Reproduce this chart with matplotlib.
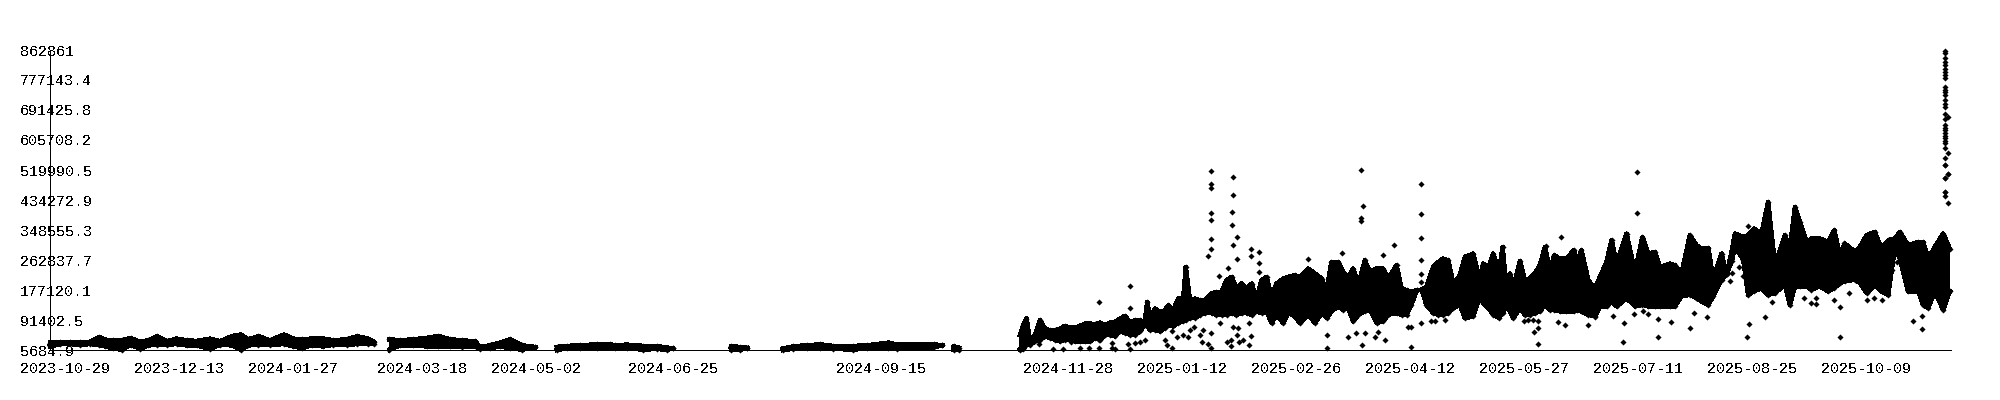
import numpy as np
import matplotlib
matplotlib.use('Agg')
import matplotlib.pyplot as plt
from matplotlib.transforms import ScaledTranslation

nan = np.nan

y_ticks = [5684.9, 91402.5, 177120.1, 262837.7, 348555.3, 434272.9, 519990.5, 605708.2, 691425.8, 777143.4, 862861]
y_labels = ['5684.9', '91402.5', '177120.1', '262837.7', '348555.3', '434272.9', '519990.5', '605708.2', '691425.8', '777143.4', '862861']
x_ticks = [0, 45, 90, 141, 186, 240, 322, 396, 441, 486, 531, 576, 621, 666, 711]
x_labels = ['2023-10-29', '2023-12-13', '2024-01-27', '2024-03-18', '2024-05-02', '2024-06-25', '2024-09-15', '2024-11-28',
            '2025-01-12', '2025-02-26', '2025-04-12', '2025-05-27', '2025-07-11', '2025-08-25', '2025-10-09']

# days since 2023-10-29, with the upper and lower edge of the dense cloud in thousands
# nan = no data for that stretch
band_days = [0, 3.9, 7.9, 11.8, 15.8, 19.4, 21.7, 25, 28.3, 31.8, 35.5, 38.8, 42.4, 46.1, 50, 54, 57.9, 63.2, 67.1, 72.1, 75.3, 78.3,
             82.3, 86.9, 92.4, 96.1, 99.4, 103.3, 107.9, 111.9, 117.1, 121.3, 125.7, 127.9, 132,
             134, 138.2, 143.4, 148.7, 153.3, 157.9, 162.5, 167.8, 169.8, 173.7, 177.7, 181.6, 186.3, 191.5, 195,
             200.1, 204, 209.3, 215.9, 221.1, 223.1, 227.7, 234.3, 239.6, 243.5, 245.9, 255,
             268.8, 272.5, 275.3, 285,
             289.3, 293.5, 298.8, 304, 309.3, 317.2, 322.5, 331, 334.3, 340.9, 348.8, 352.3, 354.5,
             356.7, 358.8, 370,
             382.9, 384.2, 385.5, 386.8, 388.8, 390.8, 392.8, 394.7, 396.7, 398.7, 400.7, 402.6, 404.6, 406.6, 408.6, 410.5,
             412.5, 414.5, 416.5, 418.4, 420.4, 422.4, 424.4, 426.3, 428.3, 430.3, 432.2, 433.2, 434.2, 436.2, 438.2, 440.1,
             441.5, 443.4, 445.4, 447.4, 448.4, 450, 452, 454, 455.9, 458.6, 460.5, 462.5, 464.5, 466.5, 468.4, 470.4,
             472.4, 474.4, 476.3, 478.3, 480.3, 482.3, 484.2, 486.9, 488.8, 491.5, 493.4, 496.7, 499.4, 502, 504, 505.9,
             508.6, 510.5, 512.5, 514.5, 516.5, 519.1, 521.1, 523.7, 526.3, 528.3, 531.6, 533.6, 535.6, 537.5, 539.5, 541.5,
             543.4, 546.1, 548.1, 550, 552, 554, 556.6, 558.6, 561.9, 564.5, 565.8, 567.8, 569.8, 572,
             573.5, 575, 576.3, 577.7, 580.3, 582.3, 584.2, 586.2, 588.2, 590.2, 592.1, 593.9, 596.1, 598.7, 601.6, 602.9,
             604.6, 607.3, 609.9, 611.9, 614.5, 616.5, 618.5, 622.4, 625.7, 628.7, 631, 633.6, 635.6, 639.5, 641.5, 644.1,
             647.4, 650, 652, 654.7, 656.6, 659.9, 661.9, 663.9, 665.2, 668.5, 670.4, 672.7, 675.7, 678.3, 681, 684.9,
             686.9, 688.9, 690.8, 693.5, 695.4, 698.7, 702, 704.4, 706.6, 708.6, 712.6, 714.5, 717.2, 720.4, 723.1, 725.7,
             728.3, 730.3, 733.6, 737.6, 739.5, 741.5, 744.1, 747.4, 750]
band_high = [26.6, 28.5, 28.5, 28.5, 28.5, 42.8, 35.2, 33.3, 33.3, 40, 28.5, 33.3, 44.7, 30.4, 38, 33.3, 31.4, 38, 30.4, 45.7, 49.5, 36.1,
             44.7, 33.3, 49.5, 38, 36.1, 38, 38, 33.3, 36.1, 44.7, 38, 28.5, nan,
             36.1, 33.3, 36.1, 40, 45.7, 36.1, 33.3, 30.4, 14.2, 19, 26.6, 36.1, 19, 14.2, nan,
             14.2, 17.1, 19, 21.8, 21.8, 19, 20.9, 17.1, 17.1, 12.3, 10.5, nan,
             16.1, 14.2, 11.4, nan,
             9.5, 16.1, 19, 21.8, 17.1, 17.1, 19, 26.6, 20.9, 20.9, 21.8, 19, nan,
             16, 12, nan,
             47.6, 76.2, 95.3, 38.1, 47.6, 90.5, 66.7, 62, 62, 66.7, 74.3, 69.6, 69.6, 74.3, 81, 81,
             79, 83.9, 76.2, 83.9, 85.7, 95.3, 102.9, 85.7, 90.5, 90.5, 85.7, 142.9, 95.3, 123.8, 114.3, 119,
             133.4, 119, 152.4, 152.4, 242.9, 147.7, 152.4, 147.7, 147.7, 166.7, 171.5, 171.5, 204.8, 214.3, 181, 195.3,
             181, 195.3, 147.7, 204.8, 214.3, 157.2, 195.3, 209.6, 214.3, 219.1, 214.3, 238.1, 223.8, 209.6, 176.2, 257.2,
             257.2, 228.6, 214.3, 238.1, 190.5, 261.9, 228.6, 238.1, 238.1, 209.6, 247.7, 181, 176.2, 171.5, 176, 178,
             185.7, 242.9, 257.2, 266.7, 261.9, 195.3, 219.1, 271.5, 281, 204.8, 252.4, 238.1, 281, 228.6,
             300, 176.2, 223.8, 181, 260, 204.8, 209.6, 223.8, 247.7, 300, 233.4, 276.2, 266.7, 266.7, 290.5, 257.2,
             290.5, 204.8, 181, 214.3, 257.2, 319.1, 252.4, 338.1, 228.6, 328.6, 281, 285.8, 242.9, 252.4, 247.7, 223.8,
             333.4, 304.8, 295.3, 297.2, 209.6, 281, 222, 285.8, 338.1, 328.6, 333.4, 352.4, 338.1, 428.6, 247.7, 333.4,
             295.3, 414.3, 371.5, 314.3, 323.8, 323.8, 314.3, 347.7, 276.2, 309.6, 285.8, 300, 333.4, 342.9, 295.3, 319.1,
             323.8, 342.9, 304.8, 314.3, 314.3, 266.7, 300, 338.1, 295.3]
band_low = [16.1, 22.8, 22.8, 20.9, 22.8, 20.9, 16.1, 11.3, 5.7, 20.9, 9.4, 19, 20.9, 20.9, 22.8, 19, 19, 9.4, 20.9, 19, 6.6, 19,
            20.9, 20.9, 22.8, 16.1, 11.3, 19, 16.1, 20.9, 20.9, 22.8, 23.7, 23.7, nan,
            6.6, 19, 19, 16.1, 16.1, 16.1, 14.2, 16.1, 9.4, 11.3, 16.1, 11.3, 6.6, 13.2, nan,
            5.7, 11.3, 11.3, 11.3, 13.2, 11.3, 11.3, 6.6, 9.4, 5.7, 10.5, nan,
            6.6, 6.6, 11.3, nan,
            5.7, 9.4, 11.3, 11.3, 9.4, 6.6, 11.3, 11.3, 9.4, 13.2, 13.2, 19, nan,
            5.7, 6.6, nan,
            6.7, 8, 21, 21, 30.5, 35.2, 44.8, 40, 35.2, 30.5, 35.2, 35.2, 30.5, 30.5, 30.5, 30.5,
            40, 35.2, 49.5, 49.5, 44.8, 59, 54.3, 49.5, 49.5, 59, 78, 73.3, 63.8, 63.8, 59, 68.6,
            78, 73.3, 82.9, 87.6, 92.4, 97.1, 97.1, 106.7, 111.4, 111.4, 106.7, 106.7, 106.7, 111.4, 106.7, 111.4,
            111.4, 106.7, 116.2, 111.4, 116.2, 82.9, 106.7, 82.9, 111.4, 101.9, 82.9, 106.7, 82.9, 111.4, 97.1, 116.2,
            130.5, 121, 125.7, 87.6, 106.7, 116.2, 121, 82.9, 87.6, 106.7, 111.4, 106.7, 106.7, 135.2, 176, 178,
            135.2, 111.4, 106.7, 106.7, 111.4, 125.7, 135.2, 97.1, 101.9, 159, 140, 125.7, 106.7, 97.1,
            111.4, 135.2, 116.2, 97.1, 125.7, 106.7, 106.7, 111.4, 116.2, 135.2, 121, 121, 116.2, 116.2, 116.2, 121,
            116.2, 106.7, 101.9, 130.5, 130.5, 144.8, 130.5, 154.3, 130.5, 135.2, 130.5, 130.5, 130.5, 130.5, 130.5, 159,
            163.8, 154.3, 144.8, 135.2, 159, 206.7, 222, 259, 301.9, 263.8, 163.8, 173.3, 182.9, 163.8, 168.6, 192.4,
            135.2, 187.6, 187.6, 187.6, 178.1, 187.6, 173.3, 182.9, 197.2, 201.9, 206.7, 197.2, 168.6, 192.4, 173.3, 163.8,
            297.2, 268.6, 173.3, 173.3, 135.2, 125.7, 173.3, 121, 173.3]

# points standing clear of the cloud
outlier_days = [458.4, 458.4, 458.4, 458.4, 458.4, 458.4, 458.4, 457.3, 467.1, 467.1, 466.7, 466.7, 468.7, 467.1, 468.7, 465.1, 461.6,
                474.2, 474.2, 477.4, 477.4, 477.4, 426.5, 426.5, 414.2, 517.7, 518.4, 517.7, 517.7, 541.3, 541.3, 541.3, 541.3, 541.3, 541.3,
                510.2, 496.7, 526.3, 530.7, 541.3, 545.3, 546.9, 550.8, 504.2, 504.2, 512.5, 515.7, 519.2, 518.1, 523.2, 524.4, 527.1, 537.4,
                536.2, 537.4, 390.5, 396.1, 400, 403.2, 406.7, 410.3, 414.2, 414.2, 419.3, 419.3, 420.4, 425.7, 428.4, 430.3, 432.2, 426.5,
                440.3, 441.1, 443, 443, 445, 447.4, 449.4, 450.1, 451.7, 454.1, 454.9, 457.3, 458.4, 464.8, 466.3, 466.3, 468.7, 469.5,
                471.1, 473.4, 474.2, 455.3, 458.2, 461.9, 467.1, 469.1, 473.4,
                626.6, 626.6, 596.6, 590.7, 621.1, 621.5, 634.9, 634.9, 640, 647.5, 649.1, 654.3, 587.5, 586, 587.5, 581.9, 583.6, 585.6,
                587.5, 595.4, 598.2, 607.3, 609.9, 617.1, 625.3, 629, 631, 670, 670.8, 677.2, 706.8, 706.8, 704.4, 735.6, 739.1, 739.1,
                670.4, 663.2, 664.1, 666.8, 668.5, 708.3, 729, 727.3, 710.3, 717.2, 720.2, 723.3, 679.7, 692.6, 695.4, 697.4, 697.4]
outlier_values = [516.2, 480, 467.6, 396.2, 377.2, 322, 293.4, 273.4, 499.1, 447.6, 399.1, 361.9, 327.6, 304.8, 264.8, 239.1, 216.2,
                  293.4, 273.4, 284.8, 254.3, 227.6, 187.6, 124.8, 141.9, 519.1, 416.2, 381.9, 375.3, 479.1, 393.4, 324.8, 261.9, 221.9, 199.1,
                  281.9, 264.8, 277.2, 304.8, 81.9, 87.6, 87.6, 90.5, 47.6, 10.5, 41.9, 53.4, 53.4, 19.1, 41.9, 56.2, 33.4, 13.4,
                  70.5, 70.5, 21.9, 7.6, 7.6, 27.6, 10.5, 10.5, 10.5, 34.3, 24.8, 10.5, 7.6, 21.9, 24.8, 27.6, 33.4, 7.6,
                  33.4, 19.1, 10.5, 59.1, 41.9, 48.6, 41.9, 62.9, 70.5, 47.6, 27.6, 21.9, 10.5, 27.6, 33.4, 16.2, 47.6, 27.6,
                  34.3, 19.1, 44.8, 62.9, 53.4, 81.9, 72.4, 67.6, 81.9,
                  513.4, 396.2, 327.6, 302.9, 29.5, 81.9, 41.9, 93.4, 84.8, 67.6, 110.5, 99.1, 21.9, 56.2, 67.6, 88.6, 90.5, 90.5,
                  88.6, 84.8, 77.2, 77.2, 99.1, 102.9, 108.6, 117.2, 108.6, 41.9, 79.1, 99.1, 41.9, 128.6, 148.6, 87.6, 64.8, 102.9,
                  359.1, 201.9, 224.8, 241.9, 216.2, 310.5, 256.2, 233.4, 167.6, 148.6, 153.4, 148.6, 143.8, 153.4, 139.1, 137.2, 153.4]

# the last spike, all within a couple of days at the end
spike_days = [748, 748, 748, 748, 748, 748, 748, 748, 748, 748, 748, 748, 748, 748, 748, 748, 749.4, 748, 748, 748, 748, 748, 748, 748, 748,
              748, 748, 748, 749.4, 748, 748, 749.4, 748, 748, 749.4, 748, 748, 749.4, 748, 748]
spike_values = [861, 855, 839, 828, 820, 810, 801, 791, 784, 756, 749, 742, 734, 720, 709, 699, 670.5, 680, 665, 649, 641, 633, 626, 618, 610,
                603, 596, 582, 568, 553, 534, 507.6, 496.2, 458.1, 424.8, 445.7, 534.3, 507.6, 496.2, 458.1]

plt.rcParams['font.family'] = ['Liberation Mono', 'DejaVu Sans Mono']
plt.rcParams['font.size'] = 10.8
plt.rcParams['text.antialiased'] = False

days = np.array(band_days)
high = np.array(band_high) * 1000
low = np.array(band_low) * 1000

fig = plt.figure(figsize=(20, 4), dpi=100)
ax = fig.add_axes([50 / 2000, 50 / 400, 1901 / 2000, 300 / 400])

ax.fill_between(days, low, high, color='black', linewidth=0, antialiased=False, clip_on=False)
for edge in (high, low):
    # thick edge plus diamonds, the cloud edge is made of overlapping markers
    ax.plot(days, edge, linewidth=2.6, marker='D', ms=3.1, mew=0, color='black', antialiased=False, clip_on=False)
ax.plot(outlier_days, np.array(outlier_values) * 1000, linestyle='none', marker='D', ms=3.1, mew=0, color='black',
        antialiased=False, clip_on=False)
ax.plot(spike_days, np.array(spike_values) * 1000, linestyle='none', marker='D', ms=3.1, mew=0, color='black',
        antialiased=False, clip_on=False)

ax.set_xlim(0, 750.5)
ax.set_ylim(5684.9, 862861)
ax.set_yticks(y_ticks, y_labels)
ax.set_xticks(x_ticks, x_labels)
ax.tick_params(axis='y', length=0, pad=21.6)
ax.tick_params(axis='x', length=0, pad=8.5)
for label in ax.get_yticklabels():
    label.set_ha('left')
shift = ScaledTranslation(-30 / 100, 0, fig.dpi_scale_trans)
for label in ax.get_xticklabels():
    label.set_ha('left')
    label.set_transform(label.get_transform() + shift)

for side in ('top', 'right'):
    ax.spines[side].set_visible(False)
for side in ('left', 'bottom'):
    ax.spines[side].set_linewidth(0.72)
    ax.spines[side].set_antialiased(False)

fig.savefig('out.png', dpi=100)
